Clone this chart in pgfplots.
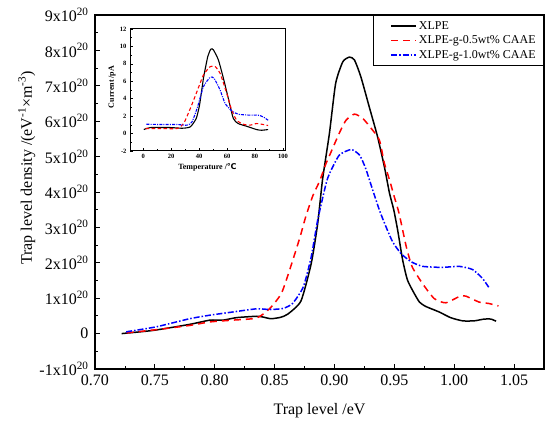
\documentclass[border=0pt]{standalone}
\usepackage{pgfplots}
\usepackage{pgfplotstable}
\pgfplotsset{compat=1.18}
\usepackage{fontspec}
\setmainfont{Liberation Serif}
\newfontfamily\dejavu{DejaVu Sans}

\pgfplotstableread{
x y
0.7222 0
0.7486 0.09
0.779 0.26
0.796 0.38
0.807 0.38
0.818 0.45
0.835 0.49
0.840 0.47
0.847 0.42
0.855 0.46
0.861 0.55
0.872 0.92
0.8806 1.98
0.886 3.11
0.890 4.34
0.8958 5.66
0.901 7.07
0.907 7.68
0.9125 7.81
0.9167 7.73
0.922 7.26
0.929 6.41
0.936 5.56
0.9417 4.71
0.946 3.96
0.9495 3.50
0.9528 2.92
0.957 2.07
0.961 1.51
0.9667 1.13
0.971 0.89
0.976 0.77
0.9875 0.61
0.997 0.45
1.007 0.36
1.0167 0.36
1.025 0.41
1.0306 0.41
1.035 0.35
}\xlpe

\pgfplotstableread{
x y
0.7264 0.02
0.751 0.11
0.779 0.23
0.796 0.33
0.815 0.38
0.835 0.44
0.846 0.71
0.8556 1.13
0.8625 1.79
0.871 2.70
0.876 3.30
0.882 3.90
0.8875 4.30
0.893 4.81
0.896 5.04
0.904 5.66
0.9097 6.03
0.9167 6.20
0.9236 6.08
0.9306 5.80
0.9375 5.47
0.9417 4.81
0.946 4.34
0.950 3.86
0.954 3.39
0.960 2.45
0.965 1.88
0.9736 1.41
0.9833 0.99
0.993 0.87
1.0056 1.07
1.0097 1.06
1.0208 0.89
1.029 0.85
1.037 0.78
}\half

\pgfplotstableread{
x y
0.726 0.05
0.751 0.19
0.779 0.42
0.796 0.52
0.815 0.61
0.835 0.70
0.846 0.68
0.857 0.71
0.865 0.85
0.874 1.32
0.8806 2.17
0.886 3.21
0.893 4.24
0.896 4.53
0.904 5.04
0.914 5.20
0.921 5.04
0.926 4.67
0.932 4.05
0.9375 3.49
0.943 3.02
0.9486 2.59
0.9556 2.26
0.964 2.03
0.9736 1.90
0.990 1.87
1.004 1.90
1.0153 1.81
1.0236 1.56
1.029 1.30
}\one

\pgfplotstableread{
x y
0.4 0.46
5.2 0.69
19.4 0.69
27.8 0.61
33.7 0.77
37.9 1.73
40.3 3.27
43.1 6.34
46.2 8.84
48.4 9.69
50.2 9.61
53.8 8.45
57.4 6.34
60.9 4.04
64.5 1.73
68.0 1.15
74.0 0.84
81.1 0.46
84.7 0.38
89.4 0.46
}\ixlpe

\pgfplotstableread{
x y
1.6 0.58
12.3 0.58
24.2 0.58
28.9 1.15
33.7 2.88
38.4 4.80
43.1 6.72
47.9 7.68
51.5 7.68
55.0 6.92
59.8 4.61
63.3 2.69
66.9 1.53
71.6 1.07
76.4 0.96
81.1 1.15
85.8 1.04
89.4 0.92
}\ihalf

\pgfplotstableread{
x y
2.3 1.07
12.3 1.04
24.2 1.04
31.3 0.96
34.9 1.34
38.9 3.07
43.1 5.38
47.9 6.46
50.7 6.34
55.0 5.00
58.6 3.46
63.3 2.61
68.0 2.22
76.4 2.11
82.3 2.11
85.8 1.92
89.4 1.53
}\ione

\begin{document}
\begin{tikzpicture}[x=1pt,y=1pt]
\useasboundingbox (0,0) rectangle (550,430);
\begin{axis}[
  at={(95pt,61pt)}, anchor=south west, scale only axis,
  width=449pt, height=354pt,
  xmin=0.70, xmax=1.075, ymin=-1, ymax=9,
  xtick={0.70,0.75,0.80,0.85,0.90,0.95,1.00,1.05},
  xticklabels={0.70,0.75,0.80,0.85,0.90,0.95,1.00,1.05},
  ytick={-1,0,1,2,3,4,5,6,7,8,9},
  yticklabels={-1x10\textsuperscript{20},0,1x10\textsuperscript{20},2x10\textsuperscript{20},3x10\textsuperscript{20},4x10\textsuperscript{20},5x10\textsuperscript{20},6x10\textsuperscript{20},7x10\textsuperscript{20},8x10\textsuperscript{20},9x10\textsuperscript{20}},
  minor x tick num=1, minor y tick num=1,
  tick align=inside, xtick pos=bottom, ytick pos=left,
  axis line style={line width=1.2pt},
  major tick length=5pt, minor tick length=3pt,
  every tick/.style={black, line width=0.8pt},
  ticklabel style={font=\fontsize{16}{18}\selectfont},
  xticklabel style={yshift=-2pt},
  yticklabel style={xshift=-3pt},
  xlabel={Trap level /eV},
  ylabel={Trap level density /(eV\textsuperscript{-1}×m\textsuperscript{-3})},
  label style={font=\fontsize{16}{18}\selectfont},
  xlabel style={at={(axis description cs:0.5,-0.1186)}, anchor=center},
  ylabel style={at={(axis description cs:-0.152,0.568)}, anchor=center},
  legend style={at={(1,1)}, anchor=north east, draw=black, line width=0.8pt,
    font=\fontsize{12}{13}\selectfont, inner xsep=6pt, inner ysep=4pt,
    cells={anchor=west}, row sep=1pt},
  legend image code/.code={\path (-11pt,0pt); \draw[#1] (0pt,0pt) -- (25pt,0pt);},
]
\addplot[black, line width=1.5pt, smooth, tension=0.35] table[x=x,y=y] {\xlpe};
\addlegendentry{XLPE}
\addplot[red, line width=1.5pt, smooth, tension=0.35, dash pattern=on 7pt off 5pt] table[x=x,y=y] {\half};
\addlegendentry{XLPE-g-0.5wt\% CAAE}
\addplot[blue, line width=1.5pt, smooth, tension=0.35, dash pattern=on 6pt off 2pt on 1.5pt off 2pt] table[x=x,y=y] {\one};
\addlegendentry{XLPE-g-1.0wt\% CAAE}
\end{axis}

\begin{axis}[
  at={(130pt,279pt)}, anchor=south west, scale only axis,
  width=155pt, height=122pt,
  xmin=-9.5, xmax=101.5, ymin=-2, ymax=12,
  xtick={0,20,40,60,80,100},
  xticklabels={0,20,40,60,80,100},
  ytick={-2,0,2,4,6,8,10,12},
  yticklabels={-2,0,2,4,6,8,10,12},
  minor x tick num=1, minor y tick num=1,
  tick align=inside, xtick pos=bottom, ytick pos=left,
  axis line style={line width=1pt},
  major tick length=3pt, minor tick length=1.5pt,
  every tick/.style={black, line width=0.6pt},
  ticklabel style={font=\bfseries\fontsize{6.5}{7}\selectfont},
  xlabel={Temperature /{\dejavu ℃}},
  ylabel={Current /pA},
  label style={font=\bfseries\fontsize{8}{9}\selectfont},
  xlabel style={at={(axis description cs:0.5,-0.137)}, anchor=center},
  ylabel style={at={(axis description cs:-0.116,0.525)}, anchor=center},
]
\addplot[black, line width=1.1pt, smooth, tension=0.35] table[x=x,y=y] {\ixlpe};
\addplot[red, line width=1.1pt, smooth, tension=0.35, dash pattern=on 3.5pt off 2.5pt] table[x=x,y=y] {\ihalf};
\addplot[blue, line width=1.1pt, smooth, tension=0.35, dash pattern=on 3pt off 1.2pt on 1pt off 1.2pt] table[x=x,y=y] {\ione};
\end{axis}
\end{tikzpicture}
\end{document}
